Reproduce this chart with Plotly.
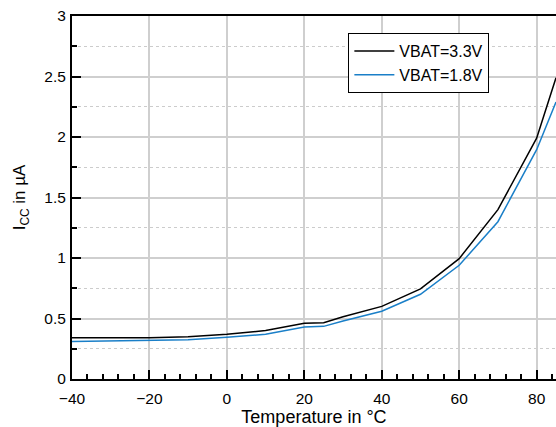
import plotly.graph_objects as go

# Supply current vs temperature
temperature = [-40, -30, -20, -10, 0, 10, 20, 25, 30, 40, 50, 60, 70, 80, 85]
icc_3v3 = [0.34, 0.342, 0.34, 0.35, 0.37, 0.40, 0.46, 0.465, 0.515, 0.60, 0.745, 0.995, 1.40, 1.99, 2.49]
icc_1v8 = [0.31, 0.315, 0.315, 0.325, 0.345, 0.37, 0.43, 0.435, 0.48, 0.56, 0.70, 0.94, 1.30, 1.895, 2.29]

series_names = ["VBAT=3.3V", "VBAT=1.8V"]
series_colors = ["#000000", "#1a7fc8"]

font_family = "Liberation Sans, Arial, sans-serif"

fig = go.Figure()
for name, values, color in zip(series_names, [icc_3v3, icc_1v8], series_colors):
    fig.add_trace(go.Scatter(
        x=temperature, y=values, name=name, mode="lines",
        line=dict(color=color, width=1.5),
    ))

fig.update_xaxes(
    range=[-40, 85], tick0=-40, dtick=20, automargin=False,
    ticks="inside", ticklen=9, tickwidth=1.5, tickcolor="black",
    minor=dict(dtick=4, ticks="inside", ticklen=5, tickwidth=1.5, tickcolor="black", showgrid=False),
    showgrid=True, gridcolor="#cfcfcf", gridwidth=1.5,
    showline=True, linecolor="black", linewidth=2, mirror=True,
    zeroline=False, ticklabelstandoff=4,
    title=dict(text="Temperature in °C", font=dict(size=18, color="black"), standoff=2),
    tickfont=dict(size=15.5, color="black"),
)
fig.update_yaxes(
    range=[0, 3], dtick=0.5, automargin=False,
    ticks="inside", ticklen=9, tickwidth=1.5, tickcolor="black",
    minor=dict(dtick=0.25, ticks="inside", ticklen=5, tickwidth=1.5, tickcolor="black",
               showgrid=True, gridcolor="#cccccc", griddash="dot", gridwidth=1),
    showgrid=True, gridcolor="#cfcfcf", gridwidth=1.5,
    showline=True, linecolor="black", linewidth=2,
    zeroline=False, ticklabelstandoff=1,
    title=dict(text="I<sub>CC</sub> in µA", font=dict(size=17, color="black"), standoff=14),
    tickfont=dict(size=15.5, color="black"),
)

fig.update_layout(
    width=556, height=427,
    margin=dict(l=72, r=0, t=16, b=48, autoexpand=False),
    paper_bgcolor="white", plot_bgcolor="white",
    font=dict(family=font_family, color="black"),
    legend=dict(
        x=0.571, y=0.953, xanchor="left", yanchor="top",
        bgcolor="white", bordercolor="black", borderwidth=1,
        font=dict(size=16, color="black"),
        itemwidth=40,
    ),
)

# page body has a default 8px margin; drop it so the figure fills the window
fig.write_html("out.html", config={"displayModeBar": False},
               post_script="document.body.style.margin='0';")
